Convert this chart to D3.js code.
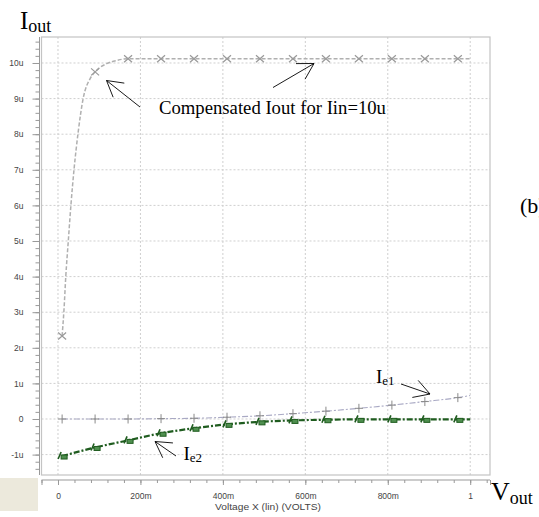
<!DOCTYPE html>
<html lang="en">
  <head>
    <meta charset="UTF-8" />
    <title>Compensated Iout vs Vout</title>
    <style>
      body { margin: 0; background: #fff; }
      .tick text { font-family: "Liberation Sans", Arial, sans-serif; font-size: 8.5px; fill: #444; }
      .serif { font-family: "Liberation Serif", "Times New Roman", serif; fill: #000; }
    </style>
  </head>
  <body>
    <svg id="svg" width="539" height="517"></svg>
    <script src="https://cdn.jsdelivr.net/npm/d3@7"></script>
    <script>
      // marker positions (V) shared by all three traces
      const markerV = [0.01, 0.09, 0.17, 0.25, 0.33, 0.41, 0.49, 0.57, 0.65, 0.73, 0.81, 0.89, 0.97];

      // Compensated Iout (uA) vs Vout (V)
      const ioutV = [0.01, 0.0146, 0.019, 0.025, 0.0316, 0.039, 0.049, 0.061, 0.078, 0.09, 0.118, 0.142, 0.17,
                     0.25, 0.33, 0.41, 0.49, 0.57, 0.65, 0.73, 0.81, 0.89, 0.97, 1.0];
      const ioutI = [2.33, 3.08, 4.02, 5.0, 6.04, 7.02, 8.06, 9.0, 9.56, 9.75, 9.98, 10.07, 10.12,
                     10.12, 10.12, 10.12, 10.12, 10.12, 10.12, 10.12, 10.12, 10.12, 10.12, 10.12];

      // Ie1 (uA)
      const ie1V = [0.01, 0.09, 0.17, 0.25, 0.33, 0.41, 0.49, 0.57, 0.65, 0.73, 0.81, 0.89, 0.97, 1.0];
      const ie1I = [0, 0, 0, 0.01, 0.02, 0.05, 0.09, 0.15, 0.22, 0.3, 0.39, 0.49, 0.6, 0.66];

      // Ie2 (uA)
      const ie2V = [0.01, 0.09, 0.17, 0.25, 0.33, 0.41, 0.49, 0.57, 0.65, 0.73, 0.81, 0.89, 0.97, 1.0];
      const ie2I = [-1.04, -0.8, -0.6, -0.4, -0.26, -0.15, -0.08, -0.04, -0.02, -0.01, -0.01, -0.01, -0.01, -0.01];

      // axis ticks
      const xTicks = [0, 0.2, 0.4, 0.6, 0.8, 1];
      const xTickLabels = ["0", "200m", "400m", "600m", "800m", "1"];
      const yTicks = [-1, 0, 1, 2, 3, 4, 5, 6, 7, 8, 9, 10];
      const yTickLabels = ["-1u", "0", "1u", "2u", "3u", "4u", "5u", "6u", "7u", "8u", "9u", "10u"];

      const plot = { left: 41.5, right: 490, top: 37, bottom: 475 };

      const svg = d3.select("#svg");

      const xScale = d3.scaleLinear().domain([-0.04, 1.048]).range([plot.left, plot.right]);
      const yScale = d3.scaleLinear().domain([-1.573, 10.73]).range([plot.bottom, plot.top]);

      // beige corner box
      svg.append("rect").attr("x", 0).attr("y", 478).attr("width", 38).attr("height", 33).attr("fill", "#ece9dc");

      // grid
      const grid = svg.append("g").attr("stroke", "#cfcfcf").attr("stroke-dasharray", "2,2").attr("stroke-width", 1);
      grid.selectAll("line.h").data(yTicks).enter().append("line")
        .attr("x1", plot.left).attr("x2", plot.right)
        .attr("y1", (d) => yScale(d)).attr("y2", (d) => yScale(d));
      grid.selectAll("line.v").data(xTicks).enter().append("line")
        .attr("x1", (d) => xScale(d)).attr("x2", (d) => xScale(d))
        .attr("y1", plot.top).attr("y2", plot.bottom);

      // frame
      svg.append("rect")
        .attr("x", plot.left).attr("y", plot.top)
        .attr("width", plot.right - plot.left).attr("height", plot.bottom - plot.top)
        .attr("fill", "none").attr("stroke", "#c4c4c4").attr("stroke-width", 1.2);

      // y axis: minor + major ticks
      const yMinor = d3.range(-7, 54).map((i) => i / 5);
      svg.append("g").attr("transform", "translate(39.5,0)")
        .call(d3.axisLeft(yScale).tickValues(yMinor).tickSize(4).tickFormat(""))
        .call((g) => g.selectAll("line, path").attr("stroke", "#999"))
        .call((g) => g.select(".domain").attr("d", `M0,${plot.top}V${plot.bottom}`));
      svg.append("g").attr("transform", "translate(39.5,0)")
        .call(d3.axisLeft(yScale).tickValues(yTicks).tickSize(7).tickPadding(9)
          .tickFormat((d, i) => yTickLabels[i]))
        .call((g) => g.select(".domain").remove())
        .call((g) => g.selectAll("line").attr("stroke", "#999"));

      // x axis: minor + major ticks
      const xMinor = d3.range(-1, 27).map((i) => i / 25);
      svg.append("g").attr("transform", "translate(0,480)")
        .call(d3.axisBottom(xScale).tickValues(xMinor).tickSize(3).tickFormat(""))
        .call((g) => g.selectAll("line, path").attr("stroke", "#999"))
        .call((g) => g.select(".domain").attr("d", `M${plot.left},0H${plot.right}`));
      svg.append("g").attr("transform", "translate(0,480)")
        .call(d3.axisBottom(xScale).tickValues(xTicks.concat([-0.04, 1.048])).tickSize(5).tickPadding(8)
          .tickFormat((d, i) => xTickLabels[i] || ""))
        .call((g) => g.select(".domain").remove())
        .call((g) => g.selectAll("line").attr("stroke", "#999"));

      svg.append("text")
        .attr("x", 268).attr("y", 510)
        .attr("text-anchor", "middle")
        .attr("textLength", 106).attr("lengthAdjust", "spacingAndGlyphs")
        .style("font-family", "Liberation Sans, Arial, sans-serif").style("font-size", "9.5px").style("fill", "#444")
        .text("Voltage X (lin) (VOLTS)");

      const line = d3.line().x((d) => xScale(d[0])).y((d) => yScale(d[1])).curve(d3.curveMonotoneX);

      const iout = ioutV.map((v, i) => [v, ioutI[i]]);
      const ie1 = ie1V.map((v, i) => [v, ie1I[i]]);
      const ie2 = ie2V.map((v, i) => [v, ie2I[i]]);
      const atMarkers = (pts) => pts.filter((p) => markerV.some((m) => Math.abs(m - p[0]) < 1e-6));

      // Iout trace
      svg.append("path").datum(iout).attr("d", line)
        .attr("fill", "none").attr("stroke", "#b0b0b0").attr("stroke-width", 1.5).attr("stroke-dasharray", "4,2");
      svg.selectAll(".mx").data(atMarkers(iout)).enter().append("path")
        .attr("transform", (d) => `translate(${xScale(d[0])},${yScale(d[1])})`)
        .attr("d", "M-4,-3.5L4,3.5M-4,3.5L4,-3.5")
        .attr("stroke", "#999").attr("stroke-width", 1.2).attr("fill", "none");

      // Ie1 trace
      svg.append("path").datum(ie1).attr("d", line)
        .attr("fill", "none").attr("stroke", "#a9a9c4").attr("stroke-width", 1.1).attr("stroke-dasharray", "6,2,2,2");
      svg.selectAll(".mp").data(atMarkers(ie1)).enter().append("path")
        .attr("transform", (d) => `translate(${xScale(d[0])},${yScale(d[1])})`)
        .attr("d", "M-4,0H4M0,-4.5V4.5")
        .attr("stroke", "#8a8a8a").attr("stroke-width", 1).attr("fill", "none");

      // Ie2 trace
      svg.append("path").datum(ie2).attr("d", line)
        .attr("fill", "none").attr("stroke", "#1f5c1f").attr("stroke-width", 2.2).attr("stroke-dasharray", "6,2,2,2");
      const m2 = svg.selectAll(".mg").data(atMarkers(ie2)).enter().append("g")
        .attr("transform", (d) => `translate(${xScale(d[0])},${yScale(d[1])})`);
      m2.append("path").attr("d", "M-4,3L-1,-4").attr("stroke", "#1f5c1f").attr("stroke-width", 1.6);
      m2.append("rect").attr("x", -1).attr("y", -1).attr("width", 6).attr("height", 4)
        .attr("fill", "#4f8f4f").attr("stroke", "#1f5c1f").attr("stroke-width", 1);

      // annotation arrows: tail -> tip, open V heads
      function arrow(x1, y1, x2, y2) {
        const a = Math.atan2(y1 - y2, x1 - x2);
        const len = 18, spread = Math.PI / 6;
        const p = d3.path();
        p.moveTo(x1, y1); p.lineTo(x2, y2);
        p.moveTo(x2 + len * Math.cos(a + spread), y2 + len * Math.sin(a + spread));
        p.lineTo(x2, y2);
        p.lineTo(x2 + len * Math.cos(a - spread), y2 + len * Math.sin(a - spread));
        svg.append("path").attr("d", p.toString()).attr("fill", "none").attr("stroke", "#000").attr("stroke-width", 0.9);
      }
      arrow(140, 107, 106.5, 80.5);
      arrow(273, 87.5, 314, 63.5);
      arrow(401, 384, 430, 394);
      arrow(176, 456, 155, 441.5);

      // labels
      function subLabel(x, y, main, sub, mainSize, subSize, drop) {
        const t = svg.append("text").attr("class", "serif").attr("x", x).attr("y", y);
        t.append("tspan").style("font-size", mainSize + "px").text(main);
        t.append("tspan").attr("dy", drop).style("font-size", subSize + "px").text(sub);
      }
      subLabel(20, 28.5, "I", "out", 25, 18, 3.5);
      subLabel(491, 500, "V", "out", 26, 18, 3.5);
      subLabel(376, 383, "I", "e1", 19, 13, 2);
      subLabel(183.5, 460, "I", "e2", 19, 13, 2);

      svg.append("text").attr("class", "serif").attr("x", 159).attr("y", 114)
        .style("font-size", "18.7px").text("Compensated Iout for Iin=10u");
      svg.append("text").attr("class", "serif").attr("x", 520).attr("y", 213)
        .style("font-size", "22px").text("(b)");
    </script>
  </body>
</html>
